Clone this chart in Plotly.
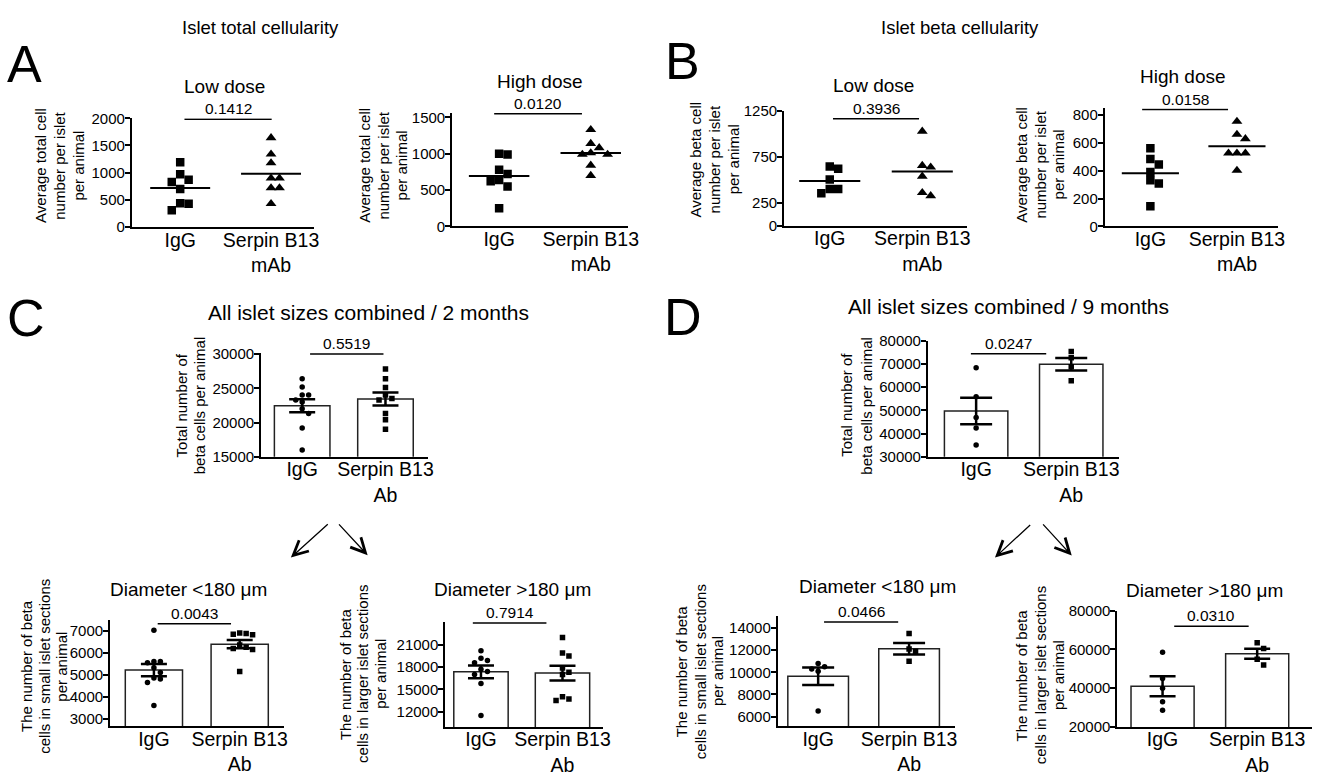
import numpy as np
import plotly.graph_objects as go

W, H = 1325, 782
FONT = "Liberation Sans, Arial, Helvetica, sans-serif"

# ---------------- data ----------------
groups = ["IgG", "Serpin B13"]

a_low_igg = [1190, 970, 870, 830, 700, 440, 430, 310]
a_low_serpin = [1640, 1340, 1180, 900, 900, 720, 720, 430]
a_high_igg = [1000, 990, 780, 720, 640, 620, 550, 250]
a_high_serpin = [1330, 1140, 1080, 1010, 990, 990, 840, 700]
b_low_igg = [644, 620, 503, 400, 400, 354]
b_low_serpin = [1027, 655, 637, 538, 361, 326]
b_high_igg = [561, 484, 444, 391, 332, 309, 145]
b_high_serpin = [753, 660, 629, 526, 526, 526, 402]
c_all_igg = [26400, 25200, 24000, 24000, 23300, 23000, 22000, 21300, 19200, 16000]
c_all_serpin = [27800, 26400, 25100, 24000, 23500, 23300, 21300, 20400, 19000]
d_all_igg = [68300, 55800, 46900, 42400, 35100]
d_all_serpin = [75300, 72600, 68700, 62700]
c_small_igg = [7030, 5600, 5600, 5550, 5320, 5100, 4850, 4800, 4650, 3600]
c_small_serpin = [6900, 6880, 6850, 6820, 6350, 6250, 6200, 6150, 5150]
c_large_igg = [20200, 19200, 18900, 18600, 17700, 17400, 17000, 15800, 11500]
c_large_serpin = [22000, 19900, 19500, 17900, 17300, 17000, 14000, 13700, 13500]
d_small_igg = [10800, 10500, 10300, 10100, 6500]
d_small_serpin = [13500, 12100, 11900, 11000]
d_large_igg = [58500, 45000, 40000, 33000, 28700]
d_large_serpin = [63500, 60500, 55000, 52000]

p_values = ["0.1412", "0.0120", "0.3936", "0.0158", "0.5519",
            "0.0247", "0.0043", "0.7914", "0.0466", "0.0310"]

ticks_a_low = [0, 500, 1000, 1500, 2000]
ticks_a_high = [0, 500, 1000, 1500]
ticks_b_low = [0, 250, 750, 1250]
ticks_b_high = [0, 200, 400, 600, 800]
ticks_c_all = [15000, 20000, 25000, 30000]
ticks_d_all = [30000, 40000, 50000, 60000, 70000, 80000]
ticks_c_small = [3000, 4000, 5000, 6000, 7000]
ticks_c_large = [12000, 15000, 18000, 21000]
ticks_d_small = [6000, 8000, 10000, 12000, 14000]
ticks_d_large = [20000, 40000, 60000, 80000]

ytitle_a = ["Average total cell", "number per islet", "per animal"]
ytitle_b = ["Average beta cell", "number per islet", "per animal"]
ytitle_all = ["Total number of", "beta cells per animal"]
ytitle_small = ["The number of beta", "cells in small islet sections", "per animal"]
ytitle_large = ["The number of beta", "cells in larger islet sections", "per animal"]
cat_mab = ["IgG", "Serpin B13<br>mAb"]
cat_ab = ["IgG", "Serpin B13<br>Ab"]

# ---------------- panel layout (pixel geometry) ----------------
panels = [
    dict(kind="scatter", igg=a_low_igg, ser=a_low_serpin, ticks=ticks_a_low, yr=(0, 2000),
         left=133, right=317, c0=181.7, c1=273.3, t1=(2000, 111.7), t2=(0, 223),
         sig=(0.047, 1.007, 1982), title="Low dose", tpos=(226.7, 81.7),
         ytitle=ytitle_a, ylx=(43, 62, 81), yly=160, cats=cat_mab),
    dict(kind="scatter", igg=a_high_igg, ser=a_high_serpin, ticks=ticks_a_high, yr=(0, 1560),
         left=456, right=633, c0=503.3, c1=595.7, t1=(1500, 110.7), t2=(0, 222.3),
         sig=(-0.054, 0.904, 1550), title="High dose", tpos=(545, 76.7),
         ytitle=ytitle_a, ylx=(369.5, 388.5, 407.5), yly=160, cats=cat_mab),
    dict(kind="scatter", igg=b_low_igg, ser=b_low_serpin, ticks=ticks_b_low, yr=(0, 1250),
         left=790.7, right=975, c0=836.7, c1=930, t1=(1250, 104), t2=(0, 221.7),
         sig=(0.035, 0.965, 1162), title="Low dose", tpos=(880.5, 80.7),
         ytitle=ytitle_b, ylx=(704, 723, 742), yly=154, cats=cat_mab),
    dict(kind="scatter", igg=b_high_igg, ser=b_high_serpin, ticks=ticks_b_high, yr=(0, 848),
         left=1114, right=1289, c0=1160, c1=1247.3, t1=(800, 108.3), t2=(0, 222.3),
         sig=(-0.095, 0.897, 839), title="High dose", tpos=(1193, 71.7),
         ytitle=ytitle_b, ylx=(1032, 1051, 1070), yly=159, cats=cat_mab),
    dict(kind="bar", igg=c_all_igg, ser=c_all_serpin, ticks=ticks_c_all, yr=(15000, 30200),
         left=263.3, right=431.7, c0=304.7, c1=388.7, t1=(30000, 352.7), t2=(15000, 457.7),
         sig=(0.095, 0.976, 30000), title=None, tpos=None,
         ytitle=ytitle_all, ylx=(185, 203), yly=405, cats=cat_ab, cap=13),
    dict(kind="bar", igg=d_all_igg, ser=d_all_serpin, ticks=ticks_d_all, yr=(30000, 80000),
         left=935.7, right=1128, c0=984.3, c1=1080.2, t1=(80000, 339), t2=(30000, 457.7),
         sig=(-0.055, 0.737, 74393), title=None, tpos=None,
         ytitle=ytitle_all, ylx=(856, 876), yly=405, cats=cat_ab, cap=16),
    dict(kind="bar", igg=c_small_igg, ser=c_small_serpin, ticks=ticks_c_small, yr=(2643, 7476),
         left=111, right=286.7, c0=155.2, c1=241.7, t1=(7000, 635.7), t2=(3000, 725.3),
         sig=(0.044, 0.899, 7330), title="Diameter <180 μm", tpos=(190, 596.7),
         ytitle=ytitle_small, ylx=(29, 47, 64), yly=672, cats=cat_ab, cap=13),
    dict(kind="bar", igg=c_large_igg, ser=c_large_serpin, ticks=ticks_c_large, yr=(9937, 24100),
         left=449, right=607.7, c0=485, c1=567.2, t1=(21000, 650), t2=(12000, 718.3),
         sig=(-0.1, 0.803, 23939), title="Diameter >180 μm", tpos=(516.7, 596.7),
         ytitle=ytitle_large, ylx=(350, 368, 386), yly=680, cats=cat_ab, cap=13),
    dict(kind="bar", igg=d_small_igg, ser=d_small_serpin, ticks=ticks_d_small, yr=(5118, 15118),
         left=784.3, right=963.3, c0=825, c1=916.7, t1=(14000, 632.7), t2=(6000, 723.3),
         sig=(0.065, 0.88, 14530), title="Diameter <180 μm", tpos=(885, 593.3),
         ytitle=ytitle_small, ylx=(689, 708, 726), yly=677, cats=cat_ab, cap=16),
    dict(kind="bar", igg=d_large_igg, ser=d_large_serpin, ticks=ticks_d_large, yr=(20000, 80000),
         left=1126.7, right=1323, c0=1172.3, c1=1267.7, t1=(80000, 615), t2=(20000, 734),
         sig=(0.123, 0.91, 71933), title="Diameter >180 μm", tpos=(1215, 597.3),
         ytitle=ytitle_large, ylx=(1032, 1051, 1069), yly=681, cats=cat_ab, cap=13),
]


def swarm(vals, center, ypx, xpx, d):
    """Simple beeswarm: spread points of similar value sideways."""
    placed, xs = [], []
    for v in vals:
        y = v * ypx
        for k in [0, 1, -1, 2, -2, 3, -3, 4, -4]:
            x = k * d
            if all((x - a) ** 2 + (y - b) ** 2 >= (d * 0.95) ** 2 for a, b in placed):
                break
        placed.append((x, y))
        xs.append(center + x / xpx)
    return xs


fig = go.Figure()
layout = {}
shapes = []
annotations = []


def ann_px(text, x, y, size, angle=0, **kw):
    # compensate for the text-box vs. glyph centre offset
    off = 0.15 * size
    if angle == 0:
        y = y - off
    else:
        x = x - off
    d = dict(text=text, x=x / W, y=1 - y / H, xref="paper", yref="paper", showarrow=False,
             font=dict(size=size, family=FONT, color="black"), xanchor="center",
             yanchor="middle", textangle=angle)
    d.update(kw)
    return d


for i, P in enumerate(panels, start=1):
    xr_ref = "x" if i == 1 else f"x{i}"
    yr_ref = "y" if i == 1 else f"y{i}"
    xa = "xaxis" if i == 1 else f"xaxis{i}"
    ya = "yaxis" if i == 1 else f"yaxis{i}"
    spacing = P["c1"] - P["c0"]
    xrange = [-(P["c0"] - P["left"]) / spacing, 1 + (P["right"] - P["c1"]) / spacing]
    (v1, p1), (v2, p2) = P["t1"], P["t2"]
    ymap = lambda v: p1 + (v - v1) * (p2 - p1) / (v2 - v1)
    ybot, ytop = ymap(P["yr"][0]), ymap(P["yr"][1])
    ypx = abs(p2 - p1) / abs(v2 - v1)

    layout[xa] = dict(domain=[P["left"] / W, P["right"] / W], range=xrange, anchor=yr_ref,
                      showline=True, linecolor="black", linewidth=2, ticks="",
                      tickvals=[0, 1], ticktext=P["cats"], showgrid=False, zeroline=False,
                      ticklabelstandoff=-6,
                      tickfont=dict(size=19.5, family=FONT, color="black"), fixedrange=True)
    layout[ya] = dict(domain=[1 - ybot / H, 1 - ytop / H], range=list(P["yr"]), anchor=xr_ref,
                      showline=True, linecolor="black", linewidth=2, ticks="outside",
                      ticklen=5, tickwidth=2, tickcolor="black", tickvals=P["ticks"],
                      tickformat="d", showgrid=False, zeroline=False, ticklabelstandoff=-3,
                      tickfont=dict(size=15, family=FONT, color="black"), fixedrange=True)

    if P["kind"] == "scatter":
        for j, (vals, sym, sz) in enumerate([(P["igg"], "square", 8.5), (P["ser"], "triangle-up", 9.5)]):
            xs = swarm(vals, j, ypx, spacing, 8.5)
            fig.add_trace(go.Scatter(x=xs, y=vals, mode="markers", xaxis=xr_ref, yaxis=yr_ref,
                                     marker=dict(symbol=sym, size=sz, color="black"),
                                     showlegend=False, hoverinfo="y"))
            m = float(np.mean(vals))
            fig.add_trace(go.Scatter(x=[j - 0.33, j + 0.33], y=[m, m], mode="lines",
                                     xaxis=xr_ref, yaxis=yr_ref,
                                     line=dict(color="black", width=2), showlegend=False,
                                     hoverinfo="skip"))
    else:
        means = [float(np.mean(P["igg"])), float(np.mean(P["ser"]))]
        sems = [float(np.std(P["igg"], ddof=1) / np.sqrt(len(P["igg"]))),
                float(np.std(P["ser"], ddof=1) / np.sqrt(len(P["ser"])))]
        fig.add_trace(go.Bar(x=[0, 1], y=means, width=0.667, xaxis=xr_ref, yaxis=yr_ref,
                             marker=dict(color="white", line=dict(color="#222", width=1.5)),
                             error_y=dict(type="data", array=sems, visible=True, color="black",
                                          thickness=2.5, width=P["cap"]),
                             showlegend=False, hoverinfo="y"))
        for j, (vals, sym, sz) in enumerate([(P["igg"], "circle", 5.5), (P["ser"], "square", 5.5)]):
            xs = swarm(vals, j, ypx, spacing, 6.5)
            fig.add_trace(go.Scatter(x=xs, y=vals, mode="markers", xaxis=xr_ref, yaxis=yr_ref,
                                     marker=dict(symbol=sym, size=sz, color="black"),
                                     showlegend=False, hoverinfo="y"))

    # significance bar + p-value
    sx0, sx1, sy = P["sig"]
    shapes.append(dict(type="line", xref=xr_ref, yref=yr_ref, x0=sx0, x1=sx1, y0=sy, y1=sy,
                       line=dict(color="black", width=1.5)))
    annotations.append(dict(text=p_values[i - 1], x=(sx0 + sx1) / 2, y=sy, xref=xr_ref,
                            yref=yr_ref, showarrow=False, yanchor="bottom", xanchor="center",
                            yshift=0, font=dict(size=15.5, family=FONT, color="black")))
    if P["title"]:
        annotations.append(ann_px(P["title"], P["tpos"][0], P["tpos"][1], 19))
    for line, lx in zip(P["ytitle"], P["ylx"]):
        annotations.append(ann_px(line, lx, P["yly"], 15, angle=-90))

# headers and panel letters
annotations += [
    ann_px("Islet total cellularity", 262.5, 22, 18.5),
    ann_px("Islet beta cellularity", 968.5, 22, 18.5),
    ann_px("All islet sizes combined / 2 months", 372, 313, 21),
    ann_px("All islet sizes combined / 9 months", 1017, 307, 21),
    ann_px("A", 25, 64, 52),
    ann_px("B", 688, 61, 52),
    ann_px("C", 26.7, 323.5, 52),
    ann_px("D", 689, 323, 52),
]

# arrows (tail -> head)
for (tx, ty, hx, hy) in [(331.7, 526, 293.3, 560.7), (340.7, 526, 370.7, 558.3),
                         (1040, 526.7, 1003.3, 560.7), (1050.7, 526, 1080.7, 558.7)]:
    annotations.append(dict(text="", x=hx / W, y=1 - hy / H, xref="paper", yref="paper",
                            ax=tx - hx, ay=ty - hy, axref="pixel", ayref="pixel",
                            showarrow=True, arrowhead=5, arrowsize=2.2, arrowwidth=1.3,
                            arrowcolor="black", standoff=0))

fig.update_layout(width=W, height=H, margin=dict(l=0, r=0, t=0, b=0),
                  paper_bgcolor="white", plot_bgcolor="white", showlegend=False,
                  font=dict(family=FONT, color="black"),
                  shapes=shapes, annotations=annotations, **layout)

fig.write_html("out.html")
